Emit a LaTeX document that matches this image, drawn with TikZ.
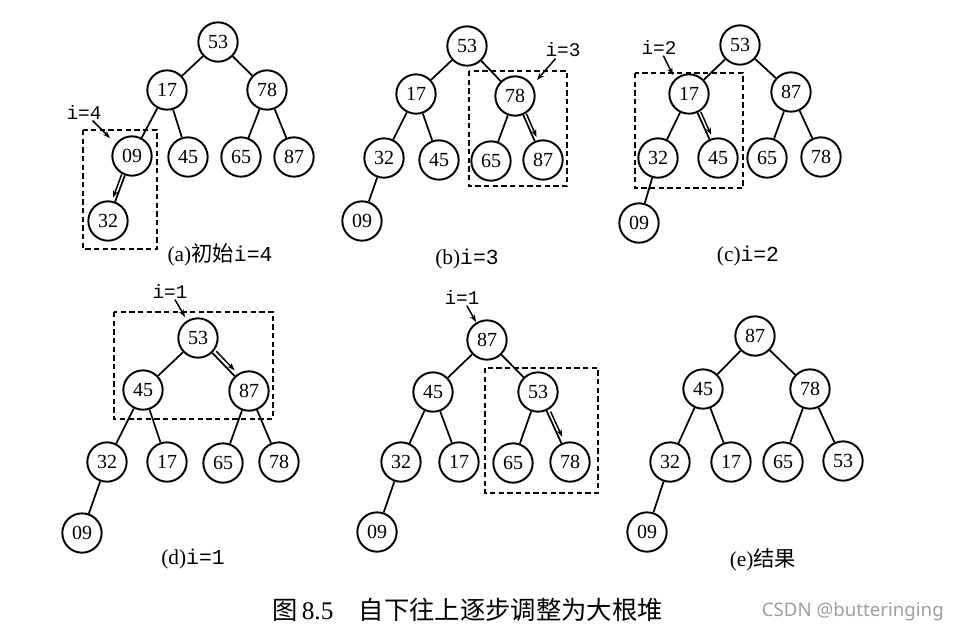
\documentclass[tikz,border=0pt]{standalone}
\usepackage{fontspec}
\setmainfont{Liberation Serif}
\setmonofont{Liberation Mono}
\newfontfamily\cjk{Noto Sans CJK SC}
\newfontfamily\csdnfont{Noto Sans}
\usetikzlibrary{calc,arrows.meta}
\begin{document}
\begin{tikzpicture}[x=0.75pt,y=-0.75pt,
  nd/.style={circle,draw,line width=1.45pt,minimum size=29.5pt,inner sep=0pt,font=\fontsize{15}{16}\selectfont},
  edge/.style={line width=1.3pt},
  dbox/.style={line width=1.15pt,dash pattern=on 4pt off 2.5pt},
  lbl/.style={font=\fontsize{14.5}{16}\selectfont\ttfamily,inner sep=1pt},
  ptr/.style={line width=1.1pt,-{Stealth[length=5.5pt,width=4pt]}},
  captext/.style={font=\fontsize{16}{18}\selectfont,inner sep=0pt},
]
\useasboundingbox (0,0) rectangle (960,637);

% ---------- (a) ----------
\node[nd] (a1) at (218,42) {53};
\node[nd] (a2) at (167,90) {17};
\node[nd] (a3) at (267,90) {78};
\node[nd] (a4) at (132,156) {09};
\node[nd] (a5) at (188,157) {45};
\node[nd] (a6) at (241,157) {65};
\node[nd] (a7) at (294,157) {87};
\node[nd] (a8) at (108,221) {32};
\draw[edge] (a1)--(a2) (a1)--(a3) (a2)--(a4) (a2)--(a5) (a3)--(a6) (a3)--(a7) (a4)--(a8);
\draw[dbox] (83,130) rectangle (157,249);
\node[lbl] (la) at (84,112) {i=4};
\coordinate (ta) at (110,138);
\draw[ptr] (la) -- (ta);
\draw[ptr] ($(a4)!0.3!(a8)!2.5pt!-90:(a8)$) -- ($(a4)!0.66!(a8)!2.5pt!-90:(a8)$);
\node[captext] (capa) at (220,255) {(a){\cjk 初始}{\ttfamily i=4}};

% ---------- (b) ----------
\node[nd] (b1) at (467,46) {53};
\node[nd] (b2) at (416,94) {17};
\node[nd] (b3) at (515,96) {78};
\node[nd] (b4) at (384,158) {32};
\node[nd] (b5) at (439,160) {45};
\node[nd] (b6) at (491,161) {65};
\node[nd] (b7) at (543,160) {87};
\node[nd] (b8) at (362,221) {09};
\draw[edge] (b1)--(b2) (b1)--(b3) (b2)--(b4) (b2)--(b5) (b3)--(b6) (b3)--(b7) (b4)--(b8);
\draw[dbox] (469,71) rectangle (567,186);
\node[lbl] (lb) at (563,50) {i=3};
\coordinate (tb) at (537,80);
\draw[ptr] (lb) -- (tb);
\draw[ptr] ($(b3)!0.3!(b7)!2.5pt!90:(b7)$) -- ($(b3)!0.66!(b7)!2.5pt!90:(b7)$);
\node[captext] (capb) at (467,259) {(b){\ttfamily i=3}};

% ---------- (c) ----------
\node[nd] (c1) at (740,45) {53};
\node[nd] (c2) at (689,94) {17};
\node[nd] (c3) at (791,92) {87};
\node[nd] (c4) at (658,158) {32};
\node[nd] (c5) at (718,158) {45};
\node[nd] (c6) at (767,158) {65};
\node[nd] (c7) at (821,157) {78};
\node[nd] (c8) at (639,223) {09};
\draw[edge] (c1)--(c2) (c1)--(c3) (c2)--(c4) (c2)--(c5) (c3)--(c6) (c3)--(c7) (c4)--(c8);
\draw[dbox] (635,73) rectangle (743,188);
\node[lbl] (lc) at (659,47) {i=2};
\coordinate (tc) at (673,75);
\draw[ptr] (lc) -- (tc);
\draw[ptr] ($(c2)!0.3!(c5)!2.5pt!90:(c5)$) -- ($(c2)!0.66!(c5)!2.5pt!90:(c5)$);
\node[captext] (capc) at (748,256) {(c){\ttfamily i=2}};

% ---------- (d) ----------
\node[nd] (d1) at (198,338) {53};
\node[nd] (d2) at (143,390) {45};
\node[nd] (d3) at (249,391) {87};
\node[nd] (d4) at (107,462) {32};
\node[nd] (d5) at (167,462) {17};
\node[nd] (d6) at (223,463) {65};
\node[nd] (d7) at (279,462) {78};
\node[nd] (d8) at (82,533) {09};
\draw[edge] (d1)--(d2) (d1)--(d3) (d2)--(d4) (d2)--(d5) (d3)--(d6) (d3)--(d7) (d4)--(d8);
\draw[dbox] (114,312) rectangle (273,419);
\node[lbl] (ld) at (170,291) {i=1};
\coordinate (td) at (185,317);
\draw[ptr] (ld) -- (td);
\draw[ptr] ($(d1)!0.3!(d3)!3pt!90:(d3)$) -- ($(d1)!0.66!(d3)!3pt!90:(d3)$);
\node[captext] (capd) at (193,559) {(d){\ttfamily i=1}};

% ---------- second step of i=1 ----------
\node[nd] (e1) at (487,340) {87};
\node[nd] (e2) at (433,392) {45};
\node[nd] (e3) at (538,392) {53};
\node[nd] (e4) at (401,462) {32};
\node[nd] (e5) at (459,462) {17};
\node[nd] (e6) at (513,463) {65};
\node[nd] (e7) at (570,462) {78};
\node[nd] (e8) at (377,532) {09};
\draw[edge] (e1)--(e2) (e1)--(e3) (e2)--(e4) (e2)--(e5) (e3)--(e6) (e3)--(e7) (e4)--(e8);
\draw[dbox] (485,368) rectangle (598,493);
\node[lbl] (le) at (462,297) {i=1};
\coordinate (te) at (476,322);
\draw[ptr] (le) -- (te);
\draw[ptr] ($(e3)!0.3!(e7)!2.5pt!90:(e7)$) -- ($(e3)!0.66!(e7)!2.5pt!90:(e7)$);

% ---------- (e) result ----------
\node[nd] (f1) at (755,336) {87};
\node[nd] (f2) at (703,389) {45};
\node[nd] (f3) at (810,389) {78};
\node[nd] (f4) at (670,462) {32};
\node[nd] (f5) at (731,462) {17};
\node[nd] (f6) at (783,462) {65};
\node[nd] (f7) at (843,461) {53};
\node[nd] (f8) at (647,532) {09};
\draw[edge] (f1)--(f2) (f1)--(f3) (f2)--(f4) (f2)--(f5) (f3)--(f6) (f3)--(f7) (f4)--(f8);
\node[captext] (capf) at (763,560) {(e){\cjk 结果}};

% ---------- figure caption ----------
\node[anchor=west,inner sep=0pt,font=\fontsize{19}{21}\selectfont] (title) at (272,610)
  {{\cjk 图}\,8.5\hspace{1em}{\cjk 自下往上逐步调整为大根堆}};
\node[anchor=east,inner sep=0pt,text=black!38,font=\fontsize{14}{16}\csdnfont] (wm) at (944,612) {CSDN @butteringing};
\end{tikzpicture}
\end{document}
